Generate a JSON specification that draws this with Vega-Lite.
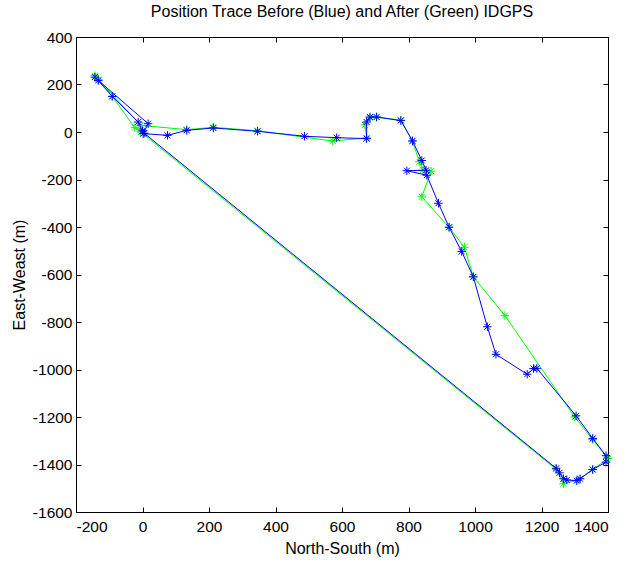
{
  "$schema": "https://vega.github.io/schema/vega-lite/v6.json",
  "autosize": "none",
  "width": 532,
  "height": 475,
  "padding": {"left": 76, "top": 37, "right": 19, "bottom": 51},
  "background": "white",
  "config": {
    "view": {"stroke": "black", "strokeWidth": 1},
    "font": "Liberation Sans",
    "axis": {"grid": false, "domain": false, "tickColor": "black", "labelColor": "black", "titleColor": "black", "labelFont": "Liberation Sans", "titleFont": "Liberation Sans", "labelFontSize": 15.5, "titleFontSize": 16, "titleFontWeight": "normal", "tickSize": -5, "labelPadding": 9, "labelExpr": "'' + datum.value"}
  },
  "title": {"text": "Position Trace Before (Blue) and After (Green) IDGPS", "fontSize": 16, "fontWeight": "normal", "font": "Liberation Sans", "color": "black", "offset": 10, "anchor": "middle"},
  "data": {"values": [
    {"s": "Before", "i": 1, "x": 0, "y": 5},
    {"s": "Before", "i": 2, "x": -13, "y": 42},
    {"s": "Before", "i": 3, "x": -91, "y": 150},
    {"s": "Before", "i": 4, "x": -143, "y": 231},
    {"s": "Before", "i": 5, "x": -133, "y": 217},
    {"s": "Before", "i": 6, "x": 17, "y": 35},
    {"s": "Before", "i": 7, "x": 2, "y": -7},
    {"s": "Before", "i": 8, "x": 75, "y": -14},
    {"s": "Before", "i": 9, "x": 133, "y": 7},
    {"s": "Before", "i": 10, "x": 213, "y": 17},
    {"s": "Before", "i": 11, "x": 346, "y": 3},
    {"s": "Before", "i": 12, "x": 487, "y": -18},
    {"s": "Before", "i": 13, "x": 584, "y": -24},
    {"s": "Before", "i": 14, "x": 674, "y": -28},
    {"s": "Before", "i": 15, "x": 674, "y": 42},
    {"s": "Before", "i": 16, "x": 684, "y": 63},
    {"s": "Before", "i": 17, "x": 704, "y": 63},
    {"s": "Before", "i": 18, "x": 777, "y": 48},
    {"s": "Before", "i": 19, "x": 812, "y": -37},
    {"s": "Before", "i": 20, "x": 840, "y": -120},
    {"s": "Before", "i": 21, "x": 853, "y": -161},
    {"s": "Before", "i": 22, "x": 795, "y": -163},
    {"s": "Before", "i": 23, "x": 855, "y": -182},
    {"s": "Before", "i": 24, "x": 890, "y": -300},
    {"s": "Before", "i": 25, "x": 922, "y": -401},
    {"s": "Before", "i": 26, "x": 960, "y": -503},
    {"s": "Before", "i": 27, "x": 995, "y": -610},
    {"s": "Before", "i": 28, "x": 1037, "y": -820},
    {"s": "Before", "i": 29, "x": 1063, "y": -936},
    {"s": "Before", "i": 30, "x": 1157, "y": -1020},
    {"s": "Before", "i": 31, "x": 1176, "y": -996},
    {"s": "Before", "i": 32, "x": 1186, "y": -995},
    {"s": "Before", "i": 33, "x": 1304, "y": -1195},
    {"s": "Before", "i": 34, "x": 1354, "y": -1290},
    {"s": "Before", "i": 35, "x": 1394, "y": -1363},
    {"s": "Before", "i": 36, "x": 1394, "y": -1390},
    {"s": "Before", "i": 37, "x": 1354, "y": -1421},
    {"s": "Before", "i": 38, "x": 1316, "y": -1460},
    {"s": "Before", "i": 39, "x": 1306, "y": -1468},
    {"s": "Before", "i": 40, "x": 1276, "y": -1465},
    {"s": "Before", "i": 41, "x": 1266, "y": -1460},
    {"s": "Before", "i": 42, "x": 1254, "y": -1435},
    {"s": "Before", "i": 43, "x": 1244, "y": -1416},
    {"s": "Before", "i": 44, "x": 5, "y": -5},
    {"s": "After", "i": 1, "x": -5, "y": 10},
    {"s": "After", "i": 2, "x": -23, "y": 18},
    {"s": "After", "i": 3, "x": -91, "y": 150},
    {"s": "After", "i": 4, "x": -143, "y": 237},
    {"s": "After", "i": 5, "x": -133, "y": 222},
    {"s": "After", "i": 6, "x": -5, "y": 28},
    {"s": "After", "i": 7, "x": 133, "y": 10},
    {"s": "After", "i": 8, "x": 213, "y": 20},
    {"s": "After", "i": 9, "x": 346, "y": 5},
    {"s": "After", "i": 10, "x": 572, "y": -38},
    {"s": "After", "i": 11, "x": 674, "y": -25},
    {"s": "After", "i": 12, "x": 669, "y": 30},
    {"s": "After", "i": 13, "x": 684, "y": 60},
    {"s": "After", "i": 14, "x": 704, "y": 63},
    {"s": "After", "i": 15, "x": 777, "y": 50},
    {"s": "After", "i": 16, "x": 812, "y": -40},
    {"s": "After", "i": 17, "x": 833, "y": -125},
    {"s": "After", "i": 18, "x": 843, "y": -160},
    {"s": "After", "i": 19, "x": 868, "y": -165},
    {"s": "After", "i": 20, "x": 840, "y": -273},
    {"s": "After", "i": 21, "x": 922, "y": -401},
    {"s": "After", "i": 22, "x": 968, "y": -485},
    {"s": "After", "i": 23, "x": 995, "y": -610},
    {"s": "After", "i": 24, "x": 1090, "y": -773},
    {"s": "After", "i": 25, "x": 1300, "y": -1200},
    {"s": "After", "i": 26, "x": 1354, "y": -1295},
    {"s": "After", "i": 27, "x": 1400, "y": -1375},
    {"s": "After", "i": 28, "x": 1354, "y": -1421},
    {"s": "After", "i": 29, "x": 1310, "y": -1465},
    {"s": "After", "i": 30, "x": 1266, "y": -1481},
    {"s": "After", "i": 31, "x": 1244, "y": -1420},
    {"s": "After", "i": 32, "x": -5, "y": 0}
  ]},
  "layer": [
    {
      "encoding": {
        "x": {"field": "x", "type": "quantitative", "scale": {"domain": [-200, 1400], "nice": false, "zero": false}, "axis": {"orient": "bottom", "values": [-200, 0, 200, 400, 600, 800, 1000, 1200, 1400], "title": "North-South (m)", "titlePadding": 6, "labelPadding": 12}},
        "y": {"field": "y", "type": "quantitative", "scale": {"domain": [-1600, 400], "nice": false, "zero": false}, "axis": {"orient": "left", "values": [-1600, -1400, -1200, -1000, -800, -600, -400, -200, 0, 200, 400], "title": "East-Weast (m)", "titlePadding": 5}},
        "order": {"field": "i", "type": "quantitative"}
      },
      "layer": [
        {"transform": [{"filter": "datum.s == 'After'"}], "mark": {"type": "line", "color": "#00FF00", "strokeWidth": 1, "clip": true}},
        {"transform": [{"filter": "datum.s == 'After'"}], "mark": {"type": "point", "shape": "M-1,0L1,0M0,-1L0,1M-0.7,-0.7L0.7,0.7M-0.7,0.7L0.7,-0.7", "size": 72, "filled": false, "stroke": "#00FF00", "strokeWidth": 1, "opacity": 1}},
        {"transform": [{"filter": "datum.s == 'Before'"}], "mark": {"type": "line", "color": "#0000FF", "strokeWidth": 1, "clip": true}},
        {"transform": [{"filter": "datum.s == 'Before'"}], "mark": {"type": "point", "shape": "M-1,0L1,0M0,-1L0,1M-0.7,-0.7L0.7,0.7M-0.7,0.7L0.7,-0.7", "size": 72, "filled": false, "stroke": "#0000FF", "strokeWidth": 1, "opacity": 1}}
      ]
    },
    {
      "mark": {"type": "point", "opacity": 0},
      "encoding": {
        "x": {"field": "x", "type": "quantitative", "axis": {"orient": "top", "values": [-200, 0, 200, 400, 600, 800, 1000, 1200, 1400], "labels": false, "title": null}},
        "y": {"field": "y", "type": "quantitative", "axis": {"orient": "right", "values": [-1600, -1400, -1200, -1000, -800, -600, -400, -200, 0, 200, 400], "labels": false, "title": null}}
      }
    }
  ],
  "resolve": {"axis": {"x": "independent", "y": "independent"}}
}
